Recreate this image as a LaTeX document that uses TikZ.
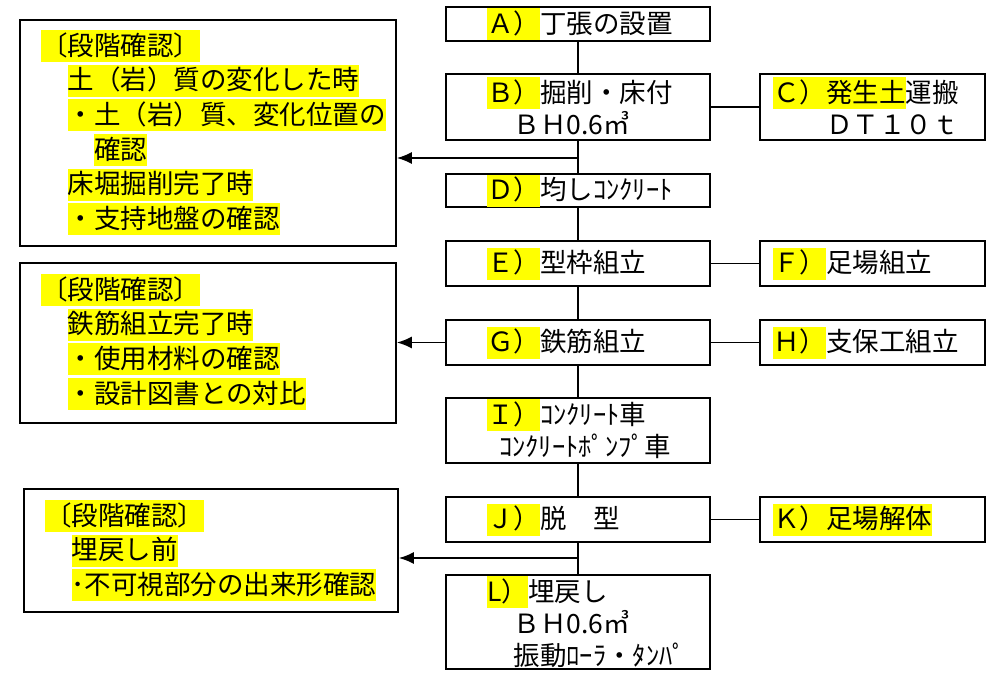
\documentclass[tikz,border=0pt]{standalone}
\usepackage{fontspec}
\setmainfont{Noto Sans CJK JP}
\usetikzlibrary{arrows.meta}
\definecolor{hly}{RGB}{255,255,0}
\newcommand\mystrut{\rule[-7pt]{0pt}{32pt}}
\newcommand\hl[1]{{\setlength{\fboxsep}{0pt}\colorbox{hly}{\mystrut#1}}}
\begin{document}
\begin{tikzpicture}[x=1pt,y=-1pt,
  mbox/.style={draw, line width=2.4pt, inner sep=0pt, minimum width=264pt},
  rbox/.style={draw, line width=2.4pt, inner sep=0pt, minimum width=225pt},
  lbox/.style={draw, line width=1.8pt, inner sep=0pt},
  txt/.style={inner sep=0pt, align=left, font=\fontsize{26.5pt}{32pt}\selectfont},
  ltxt/.style={inner sep=0pt, align=left, font=\fontsize{26.5pt}{34.6pt}\selectfont},
  conn/.style={line width=1.8pt},
  thinconn/.style={line width=1.2pt},
  arr/.style={line width=1.5pt, -{Latex[length=15pt,width=12pt]}}]
\useasboundingbox[fill=white] (0,0) rectangle (992,673);

% main column
\node[mbox, minimum height=34pt] (A) at (578,24) {};
\node[txt, anchor=west] (At) at (487,24) {\hl{Ａ）}丁張の設置};
\node[mbox, minimum height=66pt] (B) at (578,107) {};
\node[txt, anchor=west] (Bt) at (487,109) {\hl{Ｂ）}掘削・床付\\\mystrut　ＢＨ0.6㎥};
\node[rbox, minimum height=66pt] (C) at (872.5,107) {};
\node[txt, anchor=west] (Ct) at (773,109) {\hl{Ｃ）発生土}運搬\\\mystrut　　ＤＴ１０ｔ};
\node[mbox, minimum height=33pt] (D) at (578,190.5) {};
\node[txt, anchor=west] (Dt) at (487,190.5) {\hl{Ｄ）}均しｺﾝｸﾘｰﾄ};
\node[mbox, minimum height=45pt] (E) at (578,263.5) {};
\node[txt, anchor=west] (Et) at (487,263.5) {\hl{Ｅ）}型枠組立};
\node[rbox, minimum height=45pt] (F) at (872.5,263.5) {};
\node[txt, anchor=west] (Ft) at (773,263.5) {\hl{Ｆ）}足場組立};
\node[mbox, minimum height=45pt] (G) at (578,342.5) {};
\node[txt, anchor=west] (Gt) at (487,342.5) {\hl{Ｇ）}鉄筋組立};
\node[rbox, minimum height=45pt] (H) at (872.5,342.5) {};
\node[txt, anchor=west] (Ht) at (773,342.5) {\hl{Ｈ）}支保工組立};
\node[mbox, minimum height=65pt] (I) at (578,430.5) {};
\node[txt, anchor=west] (It) at (487,431) {\hl{Ｉ）}ｺﾝｸﾘｰﾄ車\\\mystrut\hspace{12pt}ｺﾝｸﾘｰﾄﾎﾟﾝﾌﾟ車};
\node[mbox, minimum height=45pt] (J) at (578,519.5) {};
\node[txt, anchor=west] (Jt) at (487,519.5) {\hl{Ｊ）}脱　型};
\node[rbox, minimum height=45pt] (K) at (872.5,519.5) {};
\node[txt, anchor=west] (Kt) at (773,519.5) {\hl{Ｋ）足場解体}};
\node[mbox, minimum height=94pt] (L) at (578,622) {};
\node[txt, anchor=west] (Lt) at (487,624) {\hl{L）}埋戻し\\\mystrut　ＢＨ0.6㎥\\\mystrut　振動ﾛｰﾗ・ﾀﾝﾊﾟ};

% left check boxes
\node[lbox, minimum width=376pt, minimum height=226pt] (P1) at (208,133) {};
\node[ltxt, anchor=north west] (P1t) at (41,30) {\hl{〔段階確認〕}\\\mystrut　\hl{土（岩）質の変化した時}\\\mystrut　\hl{・土（岩）質、変化位置の}\\\mystrut　　\hl{確認}\\\mystrut　\hl{床堀掘削完了時}\\\mystrut　\hl{・支持地盤の確認}};
\node[lbox, minimum width=376pt, minimum height=160pt] (P2) at (208,343) {};
\node[ltxt, anchor=north west] (P2t) at (41,274) {\hl{〔段階確認〕}\\\mystrut　\hl{鉄筋組立完了時}\\\mystrut　\hl{・使用材料の確認}\\\mystrut　\hl{・設計図書との対比}};
\node[lbox, minimum width=374pt, minimum height=123pt] (P3) at (211,550.5) {};
\node[ltxt, anchor=north west] (P3t) at (45,500) {\hl{〔段階確認〕}\\\mystrut　\hl{埋戻し前}\\\mystrut　\hl{･不可視部分の出来形確認}};

% connectors
\draw[thinconn] (A.south) -- (B.north);
\draw[conn] (B.south) -- (D.north);
\coordinate (b1) at (578,158);
\draw[arr] (b1) -- (P1.east |- b1);
\draw[conn] (B.east) -- (C.west);
\draw[thinconn] (D.south) -- (E.north);
\draw[conn] (E.south) -- (G.north);
\draw[conn] (E.east) -- (F.west);
\draw[conn] (G.south) -- (I.north);
\draw[conn] (G.east) -- (H.west);
\draw[arr] (G.west) -- (P2.east |- G.west);
\draw[thinconn] (I.south) -- (J.north);
\draw[conn] (J.south) -- (L.north);
\draw[conn] (J.east) -- (K.west);
\coordinate (j1) at (578,558);
\draw[arr] (j1) -- (P3.east |- j1);
\end{tikzpicture}
\end{document}
